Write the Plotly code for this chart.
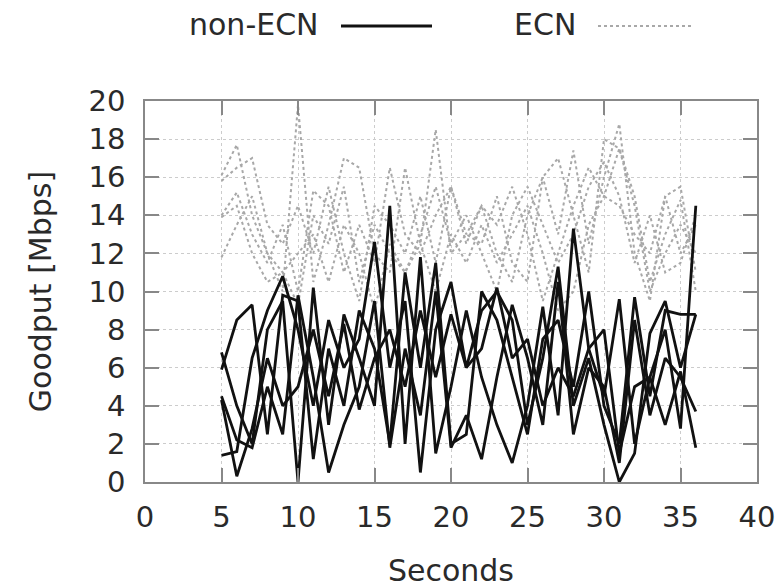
import plotly.graph_objects as go

seconds = list(range(5, 37))

non_ecn = [
    [1.4, 1.6, 6.5, 9.0, 10.8, 8.0, 4.0, 8.5, 6.0, 7.5, 12.6, 6.0, 9.5, 0.5, 8.0, 10.5,
     6.0, 9.0, 10.0, 8.5, 3.0, 6.5, 11.3, 4.0, 6.5, 3.0, 0.0, 1.5, 7.8, 9.5, 6.0, 8.8],
    [6.8, 4.0, 2.0, 8.0, 9.5, 0.0, 10.2, 3.0, 8.8, 6.5, 4.0, 14.5, 2.0, 11.8, 1.5, 5.0,
     9.0, 5.5, 3.0, 1.0, 4.0, 9.2, 3.5, 13.3, 7.0, 4.5, 9.6, 2.0, 5.5, 8.0, 2.8, 14.5],
    [5.9, 8.5, 9.3, 2.5, 9.8, 9.5, 1.2, 7.0, 4.0, 9.0, 7.0, 2.0, 11.0, 6.0, 11.5, 2.0,
     2.5, 10.0, 8.5, 5.5, 2.5, 7.5, 8.5, 5.0, 10.0, 4.0, 2.0, 9.7, 4.5, 9.0, 8.8, 8.8],
    [4.5, 2.2, 1.8, 5.0, 2.5, 9.8, 5.5, 0.5, 3.0, 5.0, 9.5, 1.8, 7.0, 3.5, 10.0, 1.8,
     3.5, 1.2, 5.5, 9.3, 6.5, 3.0, 10.5, 2.5, 6.0, 5.0, 1.0, 8.5, 3.5, 6.5, 5.5, 3.7],
    [4.3, 0.3, 2.8, 6.5, 4.0, 5.0, 8.0, 4.5, 8.3, 3.8, 6.5, 8.0, 5.0, 9.0, 5.5, 8.8,
     6.0, 7.0, 10.2, 6.5, 7.5, 4.0, 6.0, 4.5, 7.0, 8.0, 1.5, 5.0, 5.5, 3.0, 5.8, 1.8],
]

ecn = [
    [16.1, 17.7, 14.0, 12.0, 10.0, 19.8, 10.5, 13.5, 17.0, 16.5, 12.0, 11.0, 16.5, 12.5, 18.5, 12.0,
     13.0, 12.5, 15.0, 11.5, 10.5, 16.0, 13.0, 17.4, 12.5, 16.0, 18.8, 12.0, 9.5, 15.0, 15.5, 11.0],
    [15.8, 16.5, 17.0, 13.5, 12.5, 14.5, 12.0, 15.5, 12.0, 9.5, 14.5, 13.5, 12.0, 15.0, 11.5, 15.5,
     13.0, 14.5, 12.0, 10.5, 14.0, 16.0, 17.0, 14.0, 11.0, 18.0, 17.5, 15.0, 10.5, 13.0, 14.8, 10.0],
    [14.0, 15.2, 13.0, 11.5, 13.5, 10.0, 15.3, 14.5, 11.0, 13.5, 11.5, 16.5, 13.0, 12.0, 14.0, 15.5,
     12.5, 14.5, 13.5, 15.5, 13.0, 9.5, 12.0, 14.5, 16.5, 15.0, 14.5, 13.0, 12.0, 15.0, 12.0, 13.5],
    [13.9, 14.5, 12.0, 10.5, 11.0, 9.3, 14.0, 12.5, 15.5, 10.5, 13.5, 12.0, 11.0, 12.5, 10.0, 13.0,
     11.5, 13.5, 11.5, 13.0, 14.5, 12.0, 9.0, 10.0, 13.5, 15.0, 17.5, 14.5, 10.0, 12.0, 13.5, 12.0],
    [11.8, 13.5, 15.0, 12.0, 11.0, 12.0, 13.0, 10.5, 13.5, 12.0, 9.0, 12.5, 11.0, 13.0, 15.5, 12.5,
     14.0, 12.0, 10.0, 14.0, 15.5, 13.5, 11.5, 13.0, 15.5, 16.8, 15.0, 11.5, 14.0, 11.0, 11.5, 14.0],
]

x_ticks = [0, 5, 10, 15, 20, 25, 30, 35, 40]
y_ticks = [0, 2, 4, 6, 8, 10, 12, 14, 16, 18, 20]

FONT = "DejaVu Sans"
TXT = "#2a2a2a"

fig = go.Figure()
for s in ecn:
    fig.add_trace(go.Scatter(x=seconds, y=s, mode="lines", showlegend=False,
                             line=dict(color="#a8a8a8", width=2, dash="dot")))
for s in non_ecn:
    fig.add_trace(go.Scatter(x=seconds, y=s, mode="lines", showlegend=False,
                             line=dict(color="#111111", width=2.8)))

axis_common = dict(
    showline=True, linecolor="#888888", linewidth=1.5, mirror="ticks",
    ticks="inside", ticklen=14, tickcolor="#888888", tickwidth=1.5,
    showgrid=True, gridcolor="#cccccc", griddash="dot", gridwidth=1,
    zeroline=False, automargin=False, tickfont=dict(family=FONT, size=29, color=TXT),
)

fig.update_xaxes(range=[0, 40], tickvals=x_ticks, ticklabelstandoff=8,
                 title=dict(text="Seconds", font=dict(family=FONT, size=30, color=TXT), standoff=29),
                 **axis_common)
fig.update_yaxes(range=[0, 20], tickvals=y_ticks, ticklabelstandoff=12,
                 title=dict(text="Goodput [Mbps]", font=dict(family=FONT, size=30, color=TXT), standoff=28),
                 **axis_common)

# legend drawn in paper space (gnuplot style: label then sample)
def px(x):
    return (x - 145) / 612.0

def py(y):
    return (482 - y) / 381.0

fig.add_annotation(x=px(321), y=py(24), xref="paper", yref="paper", text="non-ECN",
                   showarrow=False, xanchor="right", yanchor="middle",
                   font=dict(family=FONT, size=30, color=TXT))
fig.add_shape(type="line", xref="paper", yref="paper", x0=px(341), x1=px(432), y0=py(26), y1=py(26),
              line=dict(color="#111111", width=2.8))
fig.add_annotation(x=px(578), y=py(24), xref="paper", yref="paper", text="ECN",
                   showarrow=False, xanchor="right", yanchor="middle",
                   font=dict(family=FONT, size=30, color=TXT))
fig.add_shape(type="line", xref="paper", yref="paper", x0=px(598), x1=px(694), y0=py(26), y1=py(26),
              line=dict(color="#a8a8a8", width=2, dash="dot"))

fig.update_layout(
    width=783, height=588,
    margin=dict(l=145, r=26, t=101, b=106),
    paper_bgcolor="white", plot_bgcolor="white",
    showlegend=False,
)

fig.write_html("out.html", config={"displayModeBar": False},
               post_script="document.body.style.margin='0';")
